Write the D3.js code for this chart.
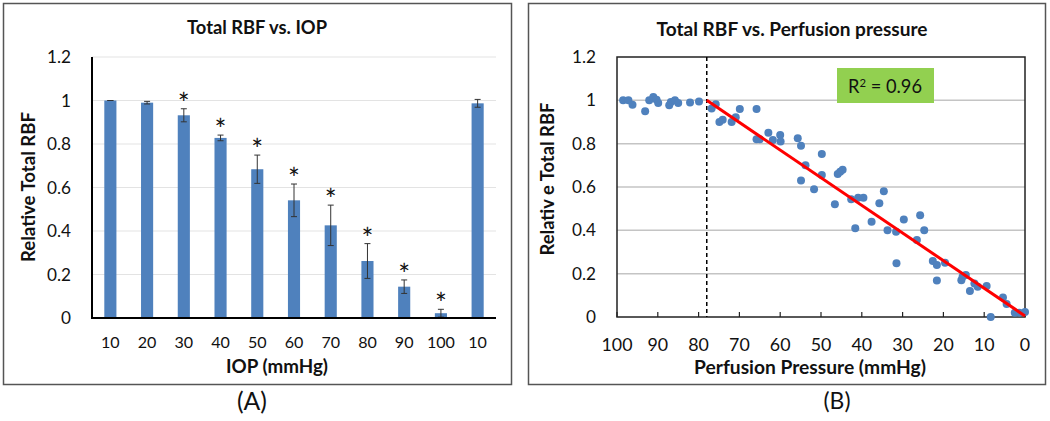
<!DOCTYPE html>
<html><head><meta charset="utf-8">
<script src="https://cdn.jsdelivr.net/npm/d3@7"></script>
<style>body{margin:0;background:#fff}svg{display:block}text{font-family:Lato,"Open Sans",sans-serif;fill:#111}</style>
</head><body><svg id="c" width="1050" height="421"></svg>
<script>
// Panel A data
const iopLabels = ["10","20","30","40","50","60","70","80","90","100","10"];
const rbfMeans = [1.0, 0.99, 0.932, 0.828, 0.684, 0.541, 0.426, 0.262, 0.144, 0.022, 0.987];
const rbfErrors = [0, 0.006, 0.03, 0.013, 0.065, 0.075, 0.093, 0.08, 0.031, 0.018, 0.018];
const significant = [false, false, true, true, true, true, true, true, true, true, false];
const yTicks = [0, 0.2, 0.4, 0.6, 0.8, 1.0, 1.2];
// Panel B data
const perfPressure = [98.5,97.2,96.2,93.1,92.1,91.1,90.3,89.9,87.2,86.8,85.8,85.0,82.1,79.9,
 76.8,75.8,74.9,74.1,71.9,70.9,69.9,65.8,65.8,65.0,62.9,61.8,60.0,59.9,55.7,54.9,53.8,54.9,51.7,
 49.8,49.8,46.6,45.9,45.3,44.7,42.6,41.6,40.9,39.6,37.6,35.7,34.6,33.7,31.6,31.5,29.7,26.5,25.7,
 24.7,22.6,21.6,21.6,19.6,15.6,15.3,14.5,13.5,12.4,11.6,9.4,8.4,5.4,4.5,2.5,1.4,0.0];
const relRBF = [1.0,1.0,0.98,0.95,1.0,1.015,1.003,0.988,0.977,0.992,1.0,0.988,0.99,0.995,
 0.962,0.982,0.90,0.91,0.90,0.922,0.96,0.96,0.82,0.82,0.85,0.817,0.84,0.81,0.825,0.79,0.70,0.63,0.59,
 0.752,0.655,0.52,0.66,0.67,0.68,0.543,0.41,0.55,0.55,0.44,0.525,0.58,0.40,0.394,0.248,0.45,0.355,0.47,
 0.40,0.258,0.24,0.168,0.25,0.17,0.186,0.194,0.12,0.155,0.14,0.143,0.0,0.09,0.06,0.02,0.02,0.023];
const xTicksB = [100,90,80,70,60,50,40,30,20,10,0];
const fitX = [78, 0];
const fitY = [1.0, 0.005];
const thresholdP = 78;
const r2Text = "0.96";

const svg = d3.select("#c");
const blue = "#4f81bd";

function fit(sel, target){
  const w = sel.node().getComputedTextLength();
  const fs = +sel.attr("font-size");
  if (w > 0) sel.attr("font-size", fs * target / w);
  return sel;
}
function fitGroup(sel, sampleIdx, target){
  const node = sel.nodes()[sampleIdx];
  const w = node.getComputedTextLength();
  const fs = +d3.select(node).attr("font-size");
  if (w > 0) sel.attr("font-size", fs * target / w);
}

// panel frames
svg.append("rect").attr("x",3.5).attr("y",3.5).attr("width",508).attr("height",381).attr("fill","none").attr("stroke","#555").attr("stroke-width",1.5);
svg.append("rect").attr("x",528.5).attr("y",3.5).attr("width",517).attr("height",381).attr("fill","none").attr("stroke","#555").attr("stroke-width",1.5);

// ---------- Panel A ----------
const A = {l:92, r:496, t:57, b:318};
const xA = d3.scaleBand().domain(d3.range(iopLabels.length)).range([A.l, A.r]).paddingInner(0.67).paddingOuter(0.335);
const yA = d3.scaleLinear().domain([0,1.2]).range([A.b, A.t]);
const gA = svg.append("g");
gA.selectAll("line.grid").data(yTicks.filter(d=>d>0)).join("line")
  .attr("x1",A.l).attr("x2",A.r).attr("y1",d=>yA(d)).attr("y2",d=>yA(d))
  .attr("stroke","#e3e3e3").attr("stroke-width",1.2);
gA.selectAll("rect.bar").data(rbfMeans).join("rect")
  .attr("x",(d,i)=>xA(i)).attr("width",xA.bandwidth())
  .attr("y",d=>yA(d)).attr("height",d=>A.b-yA(d)).attr("fill",blue);
const errData = rbfMeans.map((m,i)=>({m,e:rbfErrors[i],i}));
const eb = gA.selectAll("g.err").data(errData).join("g");
eb.append("line").attr("x1",d=>xA(d.i)+xA.bandwidth()/2).attr("x2",d=>xA(d.i)+xA.bandwidth()/2)
  .attr("y1",d=>yA(d.m+d.e)).attr("y2",d=>yA(Math.max(0,d.m-d.e))).attr("stroke","#333").attr("stroke-width",1);
[1,-1].forEach(s=>{
  eb.append("line").attr("x1",d=>xA(d.i)+xA.bandwidth()/2-3).attr("x2",d=>xA(d.i)+xA.bandwidth()/2+3)
    .attr("y1",d=>yA(Math.max(0,d.m+s*d.e))).attr("y2",d=>yA(Math.max(0,d.m+s*d.e))).attr("stroke","#333").attr("stroke-width",1);
});
gA.selectAll("text.star").data(errData.filter(d=>significant[d.i])).join("text")
  .attr("x",d=>xA(d.i)+xA.bandwidth()/2).attr("y",d=>yA(d.m+d.e)-11+16)
  .attr("text-anchor","middle").attr("font-size",28).attr("fill","#222").text("*");
gA.append("line").attr("x1",A.l).attr("x2",A.l).attr("y1",A.t).attr("y2",A.b+1).attr("stroke","#000").attr("stroke-width",2);
gA.append("line").attr("x1",A.l).attr("x2",A.r).attr("y1",A.b).attr("y2",A.b).attr("stroke","#000").attr("stroke-width",2);
const ytA = gA.selectAll("text.yt").data(yTicks).join("text").attr("x",71).attr("y",d=>yA(d)).attr("dy","0.35em")
  .attr("text-anchor","end").attr("font-size",17).text(d=>+d.toFixed(1));
fitGroup(ytA, 6, 24);
const xtA = gA.selectAll("text.xt").data(iopLabels).join("text").attr("x",(d,i)=>xA(i)+xA.bandwidth()/2).attr("y",342).attr("dy","0.35em")
  .attr("text-anchor","middle").attr("font-size",17).text(d=>d);
fitGroup(xtA, 9, 28);
fit(gA.append("text").attr("x",257).attr("y",28).attr("dy","0.35em").attr("text-anchor","middle").attr("font-size",15).attr("font-weight","bold").text("Total RBF vs. IOP"), 140);
fit(gA.append("text").attr("x",277).attr("y",366).attr("dy","0.35em").attr("text-anchor","middle").attr("font-size",16).attr("font-weight","bold").text("IOP (mmHg)"), 102);
fit(gA.append("text").attr("transform","translate(28,187) rotate(-90)").attr("dy","0.35em").attr("text-anchor","middle").attr("font-size",16).attr("font-weight","bold").text("Relative Total RBF"), 150);
fit(svg.append("text").attr("x",252).attr("y",401).attr("dy","0.35em").attr("text-anchor","middle").attr("font-size",19).text("(A)"), 30);

// ---------- Panel B ----------
const B = {l:617, r:1025, t:57, b:317};
const xB = d3.scaleLinear().domain([100,0]).range([B.l, B.r]);
const yB = d3.scaleLinear().domain([0,1.2]).range([B.b, B.t]);
const gB = svg.append("g");
gB.selectAll("line.grid").data(yTicks.filter(d=>d>0&&d<1.2)).join("line")
  .attr("x1",B.l).attr("x2",B.r).attr("y1",d=>yB(d)).attr("y2",d=>yB(d))
  .attr("stroke","#c4c4c4").attr("stroke-width",1.5);
gB.append("rect").attr("x",B.l).attr("y",B.t).attr("width",B.r-B.l).attr("height",B.b-B.t).attr("fill","none").attr("stroke","#222").attr("stroke-width",1.5);
gB.selectAll("line.tick").data(xTicksB).join("line").attr("x1",d=>xB(d)).attr("x2",d=>xB(d)).attr("y1",B.b).attr("y2",B.b-5).attr("stroke","#222").attr("stroke-width",1.2);
gB.append("line").attr("x1",xB(thresholdP)).attr("x2",xB(thresholdP)).attr("y1",B.t).attr("y2",B.b)
  .attr("stroke","#000").attr("stroke-width",1.5).attr("stroke-dasharray","4,3");
gB.selectAll("circle").data(perfPressure.map((p,i)=>[p,relRBF[i]])).join("circle")
  .attr("cx",d=>xB(d[0])).attr("cy",d=>yB(d[1])).attr("r",4).attr("fill",blue);
gB.append("line").attr("x1",xB(fitX[0])).attr("y1",yB(fitY[0])).attr("x2",xB(fitX[1])).attr("y2",yB(fitY[1]))
  .attr("stroke","#ff0000").attr("stroke-width",3);
gB.append("rect").attr("x",837).attr("y",68).attr("width",97).attr("height",35).attr("fill","#92d050");
const r2 = gB.append("text").attr("x",885).attr("y",87).attr("dy","0.35em").attr("text-anchor","middle").attr("font-size",17);
r2.append("tspan").text("R");
r2.append("tspan").attr("font-size","0.62em").attr("dy","-0.6em").text("2");
r2.append("tspan").attr("dy","0.37em").text(" = " + r2Text);
fit(r2, 74);
const ytB = gB.selectAll("text.yt").data(yTicks).join("text").attr("x",596).attr("y",d=>yB(d)).attr("dy","0.35em")
  .attr("text-anchor","end").attr("font-size",17).text(d=>+d.toFixed(1));
fitGroup(ytB, 6, 24);
const xtB = gB.selectAll("text.xt").data(xTicksB).join("text").attr("x",d=>xB(d)).attr("y",345).attr("dy","0.35em")
  .attr("text-anchor","middle").attr("font-size",17).text(d=>d);
fitGroup(xtB, 0, 31);
fit(gB.append("text").attr("x",792).attr("y",29).attr("dy","0.35em").attr("text-anchor","middle").attr("font-size",15).attr("font-weight","bold").text("Total RBF vs. Perfusion pressure"), 271);
fit(gB.append("text").attr("x",810).attr("y",367).attr("dy","0.35em").attr("text-anchor","middle").attr("font-size",16).attr("font-weight","bold").text("Perfusion Pressure (mmHg)"), 232);
fit(gB.append("text").attr("transform","translate(548,179) rotate(-90)").attr("dy","0.35em").attr("text-anchor","middle").attr("font-size",16).attr("font-weight","bold").text("Relativ e Total RBF"), 153);
fit(svg.append("text").attr("x",837).attr("y",401).attr("dy","0.35em").attr("text-anchor","middle").attr("font-size",19).text("(B)"), 27);
</script></body></html>
